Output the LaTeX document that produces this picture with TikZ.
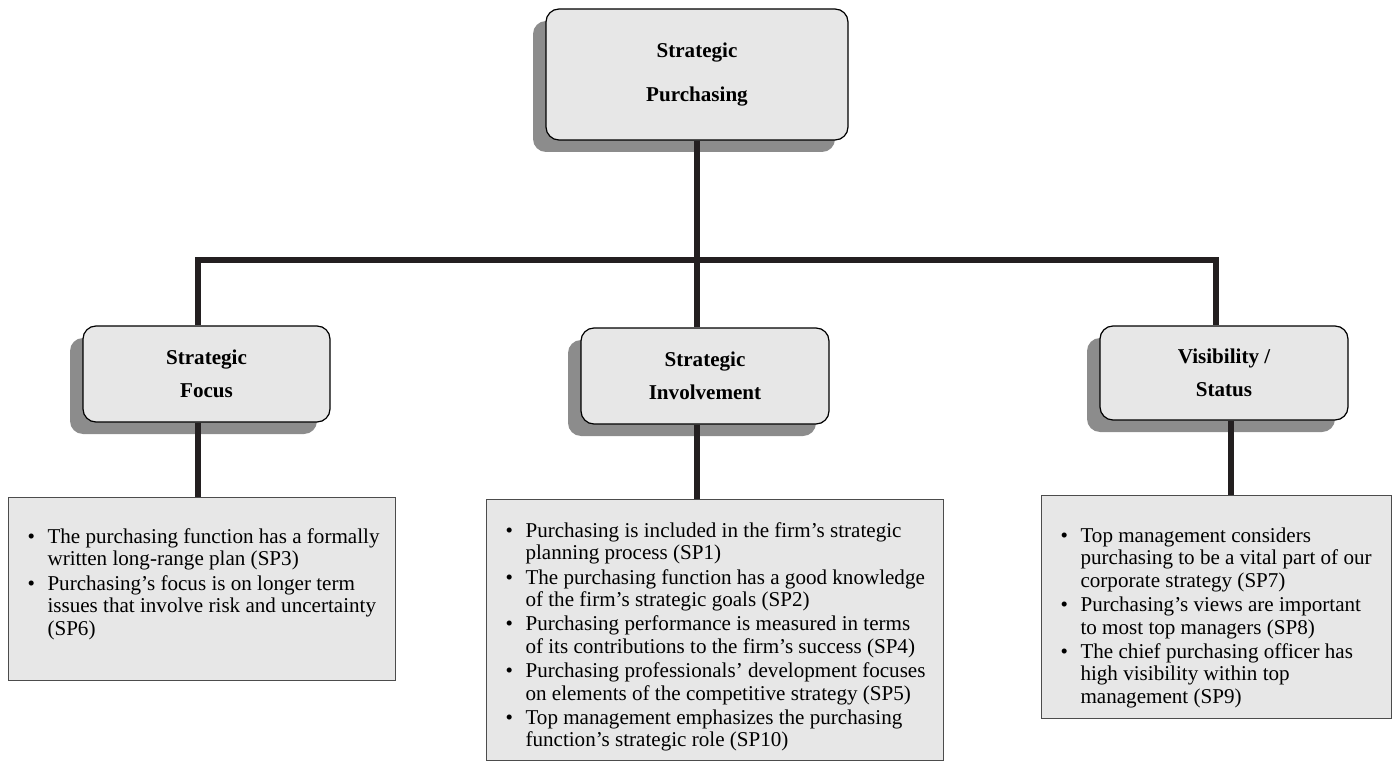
\documentclass[tikz,border=0pt]{standalone}
\usepackage{fontspec}
\setmainfont{Liberation Serif}
\usepackage{xcolor}
\usepackage{tikz}
\usetikzlibrary{positioning, shadows}
\definecolor{inkline}{HTML}{231F20}
\definecolor{boxfill}{HTML}{E7E7E7}
\definecolor{shadowgray}{HTML}{8C8C8C}
\newcommand{\spitem}[1]{\par\noindent\makebox[0.78cm][l]{\hspace{0.38cm}\textbullet}\begin{tabular}[t]{@{}l@{}}#1\end{tabular}\par}

\begin{document}
\begin{tikzpicture}[
    conn/.style={line width=3.4pt, draw=inkline},
    head/.style={draw=black, line width=0.7pt, fill=boxfill,
      rounded corners=0.26cm, align=center,
      font=\bfseries\fontsize{12}{18.7}\selectfont,
      drop shadow={shadow xshift=-0.26cm, shadow yshift=-0.24cm,
        fill=shadowgray, opacity=1}},
    listbox/.style={draw=black!70, line width=0.6pt, fill=boxfill,
      inner sep=0pt, anchor=north west,
      font=\fontsize{12}{12.8}\selectfont}]
    \useasboundingbox (0,0) rectangle (27.92,-15.22);
    \node[head, minimum width=6.04cm, minimum height=2.62cm,
      font=\bfseries\fontsize{12}{25.5}\selectfont]
      (top) at (13.94,-1.49) {Strategic\\Purchasing};
    \node[head, minimum width=4.94cm, minimum height=1.92cm]
      (focus) at (4.13,-7.48) {Strategic\\Focus};
    \node[head, minimum width=4.96cm, minimum height=1.92cm]
      (inv) at (14.10,-7.52) {Strategic\\Involvement};
    \node[head, minimum width=4.96cm, minimum height=1.88cm]
      (vis) at (24.48,-7.46) {Visibility /\\Status};
    \node[listbox] (focuslist) at (0.16,-9.94) {\begin{minipage}[c][3.66cm][t]{7.74cm}\vspace*{0.6cm}
      \spitem{The purchasing function has a formally\\written long-range plan (SP3)}
      \spitem{Purchasing’s focus is on longer term\\issues that involve risk and uncertainty\\(SP6)}
      \end{minipage}};
    \node[listbox] (invlist) at (9.72,-9.98) {\begin{minipage}[c][5.22cm][t]{9.14cm}\vspace*{0.44cm}
      \spitem{Purchasing is included in the firm’s strategic\\planning process (SP1)}
      \spitem{The purchasing function has a good knowledge\\of the firm’s strategic goals (SP2)}
      \spitem{Purchasing performance is measured in terms\\of its contributions to the firm’s success (SP4)}
      \spitem{Purchasing professionals’ development focuses\\on elements of the competitive strategy (SP5)}
      \spitem{Top management emphasizes the purchasing\\function’s strategic role (SP10)}
      \end{minipage}};
    \node[listbox] (vislist) at (20.82,-9.90) {\begin{minipage}[c][4.46cm][t]{7.00cm}\vspace*{0.62cm}
      \spitem{Top management considers\\purchasing to be a vital part of our\\corporate strategy (SP7)}
      \spitem{Purchasing’s views are important\\to most top managers (SP8)}
      \spitem{The chief purchasing officer has\\high visibility within top\\management (SP9)}
      \end{minipage}};
    \coordinate (barL) at (3.96,-5.2);
    \coordinate (barR) at (24.32,-5.2);
    \coordinate (visdrop) at (24.62,-8.4);
    \draw[conn] (top.south) -- (top.south |- inv.north);
    \draw[conn] (focus.north -| barL) -- (barL) -- (barR) -- (vis.north -| barR);
    \draw[conn] (focus.south -| barL) -- (focuslist.north -| barL);
    \draw[conn] (top.south |- inv.south) -- (top.south |- invlist.north);
    \draw[conn] (vis.south -| visdrop) -- (vislist.north -| visdrop);
  \end{tikzpicture}
\end{document}
